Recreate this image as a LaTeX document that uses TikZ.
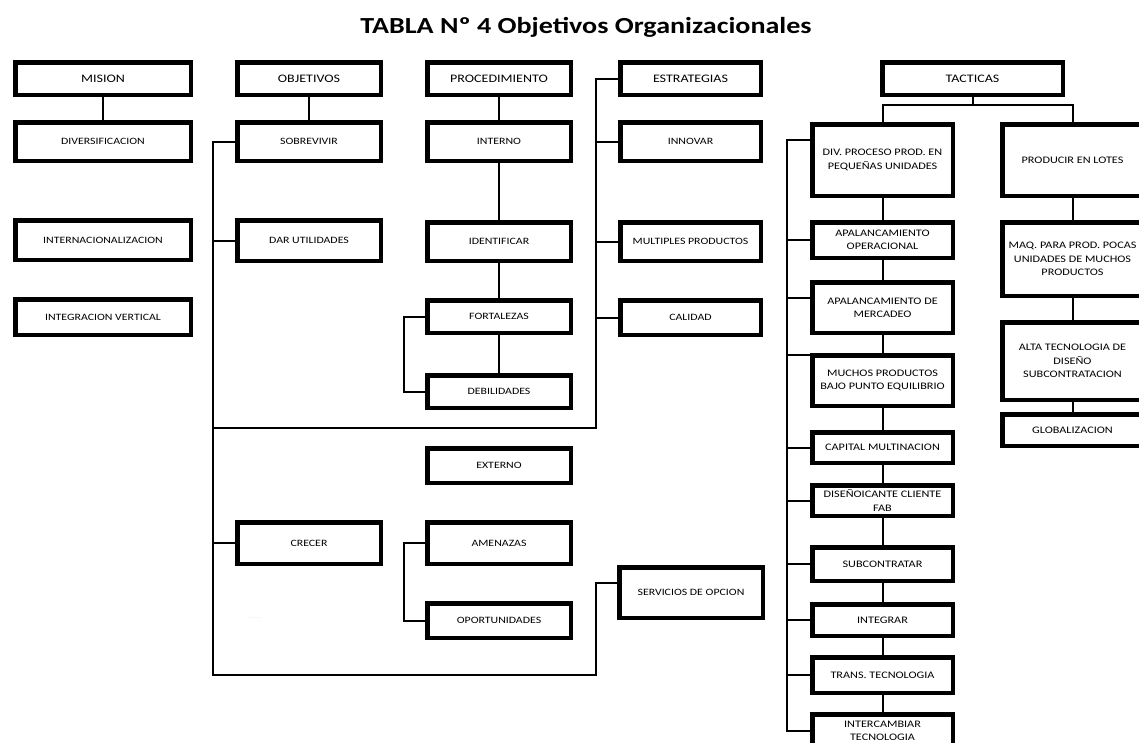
\documentclass[tikz,border=0pt]{standalone}
\usepackage{fontspec}
\setmainfont{Carlito}[FakeStretch=1.22]
\usetikzlibrary{positioning, calc}

\begin{document}
\begin{tikzpicture}[
    x=1pt, y=-1pt,
    box/.style={
        rectangle, draw, line width=4.5pt, inner sep=1pt,
        minimum width=143.5pt,
        font=\fontsize{9.7}{13.3}\selectfont, align=center
    },
    head/.style={box, font=\fontsize{11.5}{14}\selectfont},
    tact/.style={box, minimum width=140.5pt, font=\fontsize{10}{13.3}\selectfont},
    link/.style={line width=2pt}
]
    \useasboundingbox (0,0) rectangle (1139,742);

    \node[font=\fontsize{23}{27}\selectfont\bfseries] (titulo) at (586,27) {TABLA Nº 4 Objetivos Organizacionales};

    % mision
    \node[head, minimum width=175.5pt, minimum height=32.5pt] (mision) at (103,78.5) {MISION};
    \node[box, minimum width=175.5pt, minimum height=38.5pt] (diver) at (103,141.5) {DIVERSIFICACION};
    \node[box, minimum width=175.5pt, minimum height=39.5pt] (inter) at (103,240) {INTERNACIONALIZACION};
    \node[box, minimum width=175.5pt, minimum height=35.5pt] (integ) at (103,317) {INTEGRACION VERTICAL};

    % objetivos
    \node[head, minimum height=32.5pt] (objet)  at (309,78.5)  {OBJETIVOS};
    \node[box,  minimum height=38.5pt] (sobre)  at (309,141.5) {SOBREVIVIR};
    \node[box,  minimum height=40.5pt] (utili)  at (309,240.5) {DAR UTILIDADES};
    \node[box,  minimum height=41.5pt] (crecer) at (309,543)   {CRECER};
    \node[font=\fontsize{4}{4}\selectfont, text=black!25] (nota) at (255,619) {- - - - -};

    % procedimiento
    \node[head, minimum height=32.5pt] (proced)  at (499,78.5)  {PROCEDIMIENTO};
    \node[box,  minimum height=38.5pt] (interno) at (499,141.5) {INTERNO};
    \node[box,  minimum height=38.5pt] (ident)   at (499,241.5) {IDENTIFICAR};
    \node[box,  minimum height=32.5pt] (fortal)  at (499,316.5) {FORTALEZAS};
    \node[box,  minimum height=32.5pt] (debil)   at (499,391.5) {DEBILIDADES};
    \node[box,  minimum height=34.5pt] (externo) at (499,465.5) {EXTERNO};
    \node[box,  minimum height=41.5pt] (amenaz)  at (499,543)   {AMENAZAS};
    \node[box,  minimum height=34.5pt] (oportu)  at (499,620.5) {OPORTUNIDADES};

    % estrategias
    \node[head, minimum width=140.5pt, minimum height=32.5pt] (estrat) at (690.5,78.5)  {ESTRATEGIAS};
    \node[box,  minimum width=140.5pt, minimum height=38.5pt] (innov)  at (690.5,141.5) {INNOVAR};
    \node[box,  minimum width=140.5pt, minimum height=38.5pt] (multi)  at (690.5,241.5) {MULTIPLES PRODUCTOS};
    \node[box,  minimum width=140.5pt, minimum height=34.5pt] (calid)  at (690.5,317.5) {CALIDAD};
    \node[box,  minimum height=50.5pt] (servic) at (691,592.5) {SERVICIOS DE OPCION};

    % tacticas
    \node[head, minimum width=180.5pt, minimum height=32.5pt] (tacticas) at (972.5,78.5) {TACTICAS};
    \node[tact, minimum height=71.5pt] (divproc)  at (882.5,160)   {DIV. PROCESO PROD. EN\\PEQUEÑAS UNIDADES};
    \node[tact, minimum height=35.5pt] (apaope)   at (882.5,240)   {APALANCAMIENTO\\OPERACIONAL};
    \node[tact, minimum height=50.5pt] (apamer)   at (882.5,307.5) {APALANCAMIENTO DE\\MERCADEO};
    \node[tact, minimum height=50.5pt] (muchos)   at (882.5,380.5) {MUCHOS PRODUCTOS\\BAJO PUNTO EQUILIBRIO};
    \node[tact, minimum height=30.5pt] (capital)  at (882.5,447.5) {CAPITAL MULTINACION};
    \node[tact, minimum height=30.5pt] (diseno)   at (882.5,500.5) {DISEÑOICANTE CLIENTE\\FAB};
    \node[tact, minimum height=33.5pt] (subcon)   at (882.5,564)   {SUBCONTRATAR};
    \node[tact, minimum height=31.5pt] (integrar) at (882.5,620)   {INTEGRAR};
    \node[tact, minimum height=35.5pt] (transt)   at (882.5,675)   {TRANS. TECNOLOGIA};
    \node[tact, minimum height=33.5pt] (intercam) at (882.5,731)   {INTERCAMBIAR\\TECNOLOGIA};

    \node[tact, minimum height=71.5pt] (lotes)    at (1072.5,160) {PRODUCIR EN LOTES};
    \node[tact, minimum height=73.5pt] (maquinas) at (1072.5,259) {MAQ. PARA PROD. POCAS\\UNIDADES DE MUCHOS\\PRODUCTOS};
    \node[tact, minimum height=77.5pt] (altatec)  at (1072.5,361) {ALTA TECNOLOGIA DE\\DISEÑO\\SUBCONTRATACION};
    \node[tact, minimum height=31.5pt] (global)   at (1072.5,430) {GLOBALIZACION};

    \coordinate (objBot)  at (213,675);
    \coordinate (estMid)  at (596,428);
    \coordinate (estBot)  at (596,675);
    \coordinate (brazo)   at (404,0);
    \coordinate (tacFork) at (972.5,105);
    \coordinate (tacTrunk) at (787,0);
    \coordinate (servBr) at ($(servic.north west)!0.33!(servic.south west)$);

    \draw[link] (mision) -- (diver);
    \draw[link] (objet) -- (sobre);
    \draw[link] (proced) -- (interno) -- (ident) -- (fortal) -- (debil);

    \draw[link] (sobre.west) -| (objBot) -- (estBot) |- (servBr);
    \draw[link] (utili.west) -- (utili.west -| objBot);
    \draw[link] (crecer.west) -- (crecer.west -| objBot);
    \draw[link] (estrat.west) -| (estMid) -- (estMid -| objBot);
    \draw[link] (innov.west) -- (innov.west -| estMid);
    \draw[link] (multi.west) -- (multi.west -| estMid);
    \draw[link] (calid.west) -- (calid.west -| estMid);

    \draw[link] (fortal.west) -| (brazo |- debil.west) -- (debil.west);
    \draw[link] (amenaz.west) -| (brazo |- oportu.west) -- (oportu.west);

    \draw[link] (tacticas.south) -- (tacFork);
    \draw[link] (divproc.north) |- (tacFork) -| (lotes.north);
    \draw[link] (divproc) -- (apaope) -- (apamer) -- (muchos) -- (capital) -- (diseno)
        -- (subcon) -- (integrar) -- (transt) -- (intercam);
    \draw[link] (lotes) -- (maquinas) -- (altatec) -- (global);

    \draw[link] ($(divproc.north west)!0.24!(divproc.south west)$) -| (tacTrunk |- intercam.west) -- (intercam.west);
    \draw[link] (apaope.west) -- (apaope.west -| tacTrunk);
    \draw[link] ($(apamer.north west)!0.33!(apamer.south west)$) -- +(-23,0);
    \draw[link] ($(muchos.north west)!0.04!(muchos.south west)$) -- +(-23,0);
    \draw[link] (capital.west) -- (capital.west -| tacTrunk);
    \draw[link] (diseno.west) -- (diseno.west -| tacTrunk);
    \draw[link] (subcon.west) -- (subcon.west -| tacTrunk);
    \draw[link] (integrar.west) -- (integrar.west -| tacTrunk);
    \draw[link] (transt.west) -- (transt.west -| tacTrunk);
\end{tikzpicture}
\end{document}
